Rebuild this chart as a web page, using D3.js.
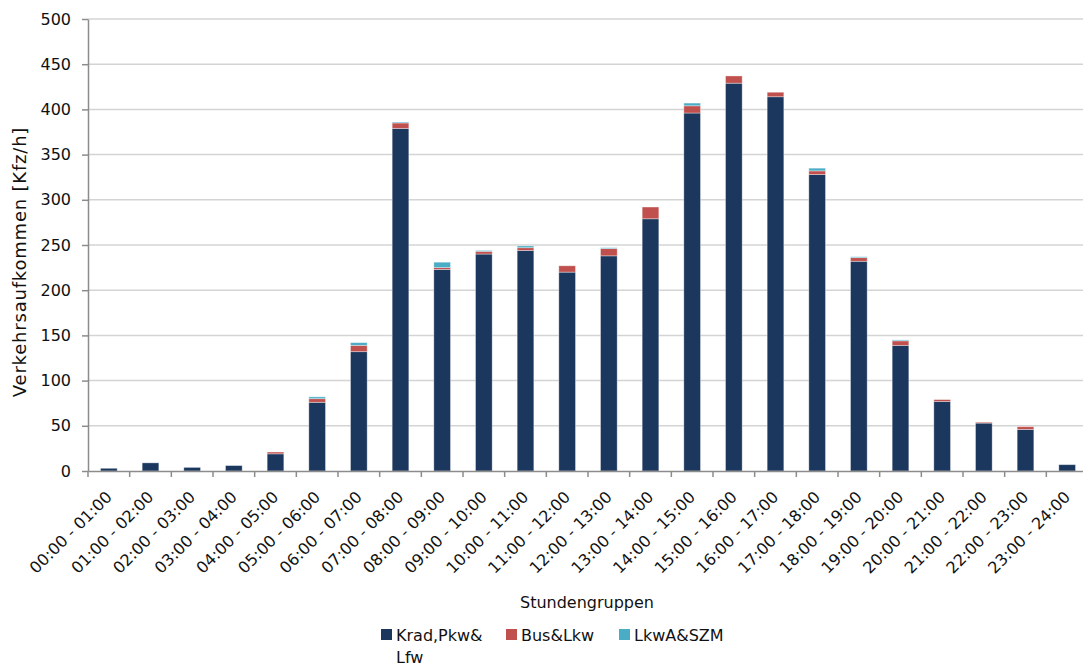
<!DOCTYPE html>
<html>
<head>
<meta charset="utf-8">
<script src="https://cdn.jsdelivr.net/npm/d3@7/dist/d3.min.js"></script>
<style>
  html, body { margin: 0; padding: 0; background: #fff; }
  svg { display: block; font-family: "DejaVu Sans", sans-serif; }
</style>
</head>
<body>
<svg id="chart" width="1083" height="668"></svg>
<script>
// Hourly traffic volume by vehicle group
const hours = [
  "00:00 - 01:00", "01:00 - 02:00", "02:00 - 03:00", "03:00 - 04:00",
  "04:00 - 05:00", "05:00 - 06:00", "06:00 - 07:00", "07:00 - 08:00",
  "08:00 - 09:00", "09:00 - 10:00", "10:00 - 11:00", "11:00 - 12:00",
  "12:00 - 13:00", "13:00 - 14:00", "14:00 - 15:00", "15:00 - 16:00",
  "16:00 - 17:00", "17:00 - 18:00", "18:00 - 19:00", "19:00 - 20:00",
  "20:00 - 21:00", "21:00 - 22:00", "22:00 - 23:00", "23:00 - 24:00"
];
const kradPkwLfw = [3, 9, 4, 6, 19, 76, 132, 379, 223, 240, 244, 220, 238, 279, 396, 429, 414, 328, 232, 139, 77, 53, 46, 7];
const busLkw     = [0, 0, 0, 0, 2, 4, 7, 6, 2, 3, 3, 7, 8, 13, 8, 8, 5, 4, 4, 5, 2, 1, 3, 0];
const lkwASZM    = [0, 0, 0, 0, 0, 2, 3, 1, 6, 1, 2, 0, 1, 0, 3, 0, 0, 3, 1, 1, 0, 0, 0, 0];
const seriesNames = ["Krad,Pkw&Lfw", "Bus&Lkw", "LkwA&SZM"];
const yTicks = [0, 50, 100, 150, 200, 250, 300, 350, 400, 450, 500];

const colors = ["#1b375d", "#c0504d", "#4bacc6"];
const svg = d3.select("#chart");
const W = 1083;
const plot = { left: 88, right: 1088, top: 19, bottom: 471 };

const rows = hours.map((h, i) => ({ hour: h, s0: kradPkwLfw[i], s1: busLkw[i], s2: lkwASZM[i] }));
const stacked = d3.stack().keys(["s0", "s1", "s2"])(rows);

const x = d3.scaleBand().domain(hours).range([plot.left, plot.right])
  .paddingInner(0.6).paddingOuter(0.3);
const y = d3.scaleLinear().domain([0, 500]).range([plot.bottom, plot.top]);

// horizontal gridlines
svg.append("g").selectAll("line").data(yTicks.filter(t => t > 0)).join("line")
  .attr("x1", plot.left).attr("x2", W)
  .attr("y1", d => y(d)).attr("y2", d => y(d))
  .attr("stroke", "#d4d4d4").attr("stroke-width", 1.5);

// stacked bars
svg.append("g").selectAll("g").data(stacked).join("g")
  .attr("fill", (d, i) => colors[i])
  .selectAll("rect").data(d => d.filter(p => p[1] - p[0] > 0)).join("rect")
  .attr("x", d => x(d.data.hour))
  .attr("width", x.bandwidth())
  .attr("y", d => y(d[1]))
  .attr("height", d => y(d[0]) - y(d[1]))
  .attr("stroke", "#ffffff").attr("stroke-opacity", 0.45).attr("stroke-width", 0.8);

// y axis
const yAxis = svg.append("g").attr("transform", `translate(${plot.left},0)`)
  .call(d3.axisLeft(y).tickValues(yTicks).tickSize(6).tickPadding(11).tickSizeOuter(0));
yAxis.select(".domain").attr("stroke", "#8c8c8c").attr("stroke-width", 1.5);
yAxis.selectAll(".tick line").attr("stroke", "#8c8c8c").attr("stroke-width", 1.5);
yAxis.selectAll("text").attr("font-size", 16).attr("fill", "#111")
  .attr("font-family", "DejaVu Sans, sans-serif");

// x axis
const xAxis = svg.append("g").attr("transform", `translate(0,${plot.bottom})`)
  .call(d3.axisBottom(x).tickSize(0).tickSizeOuter(0));
xAxis.select(".domain").attr("stroke", "#8c8c8c").attr("stroke-width", 1.5);
xAxis.selectAll(".tick text")
  .attr("font-size", 16).attr("fill", "#111")
  .attr("font-family", "DejaVu Sans, sans-serif")
  .attr("text-anchor", "end")
  .attr("x", 0).attr("y", 0).attr("dy", 0)
  .attr("transform", "translate(4,27) rotate(-45)");
// tick marks sit on the category boundaries
const step = x.step();
svg.append("g").selectAll("line").data(d3.range(hours.length + 1)).join("line")
  .attr("x1", i => x(hours[0]) + x.bandwidth() / 2 - step / 2 + i * step)
  .attr("x2", i => x(hours[0]) + x.bandwidth() / 2 - step / 2 + i * step)
  .attr("y1", plot.bottom).attr("y2", plot.bottom + 6)
  .attr("stroke", "#8c8c8c").attr("stroke-width", 1.5);

// axis titles
svg.append("text")
  .attr("transform", `translate(26,262) rotate(-90)`)
  .attr("text-anchor", "middle").attr("font-size", 18).attr("letter-spacing", 0.8)
  .attr("fill", "#111")
  .text("Verkehrsaufkommen [Kfz/h]");
svg.append("text")
  .attr("x", 587).attr("y", 608)
  .attr("text-anchor", "middle").attr("font-size", 16).attr("fill", "#111")
  .text("Stundengruppen");

// legend
const legendItems = [
  { x: 381, lines: ["Krad,Pkw&", "Lfw"] },
  { x: 506, lines: ["Bus&Lkw"] },
  { x: 619, lines: ["LkwA&SZM"] }
];
const legend = svg.append("g");
legendItems.forEach((item, i) => {
  const g = legend.append("g").attr("transform", `translate(${item.x},629)`);
  g.append("rect").attr("width", 11).attr("height", 11).attr("fill", colors[i]);
  const t = g.append("text").attr("x", 15).attr("y", 12).attr("font-size", 16).attr("fill", "#111")
    .attr("aria-label", seriesNames[i]);
  item.lines.forEach((ln, k) => {
    t.append("tspan").attr("x", 15).attr("dy", k === 0 ? 0 : 22).text(ln);
  });
});
</script>
</body>
</html>
